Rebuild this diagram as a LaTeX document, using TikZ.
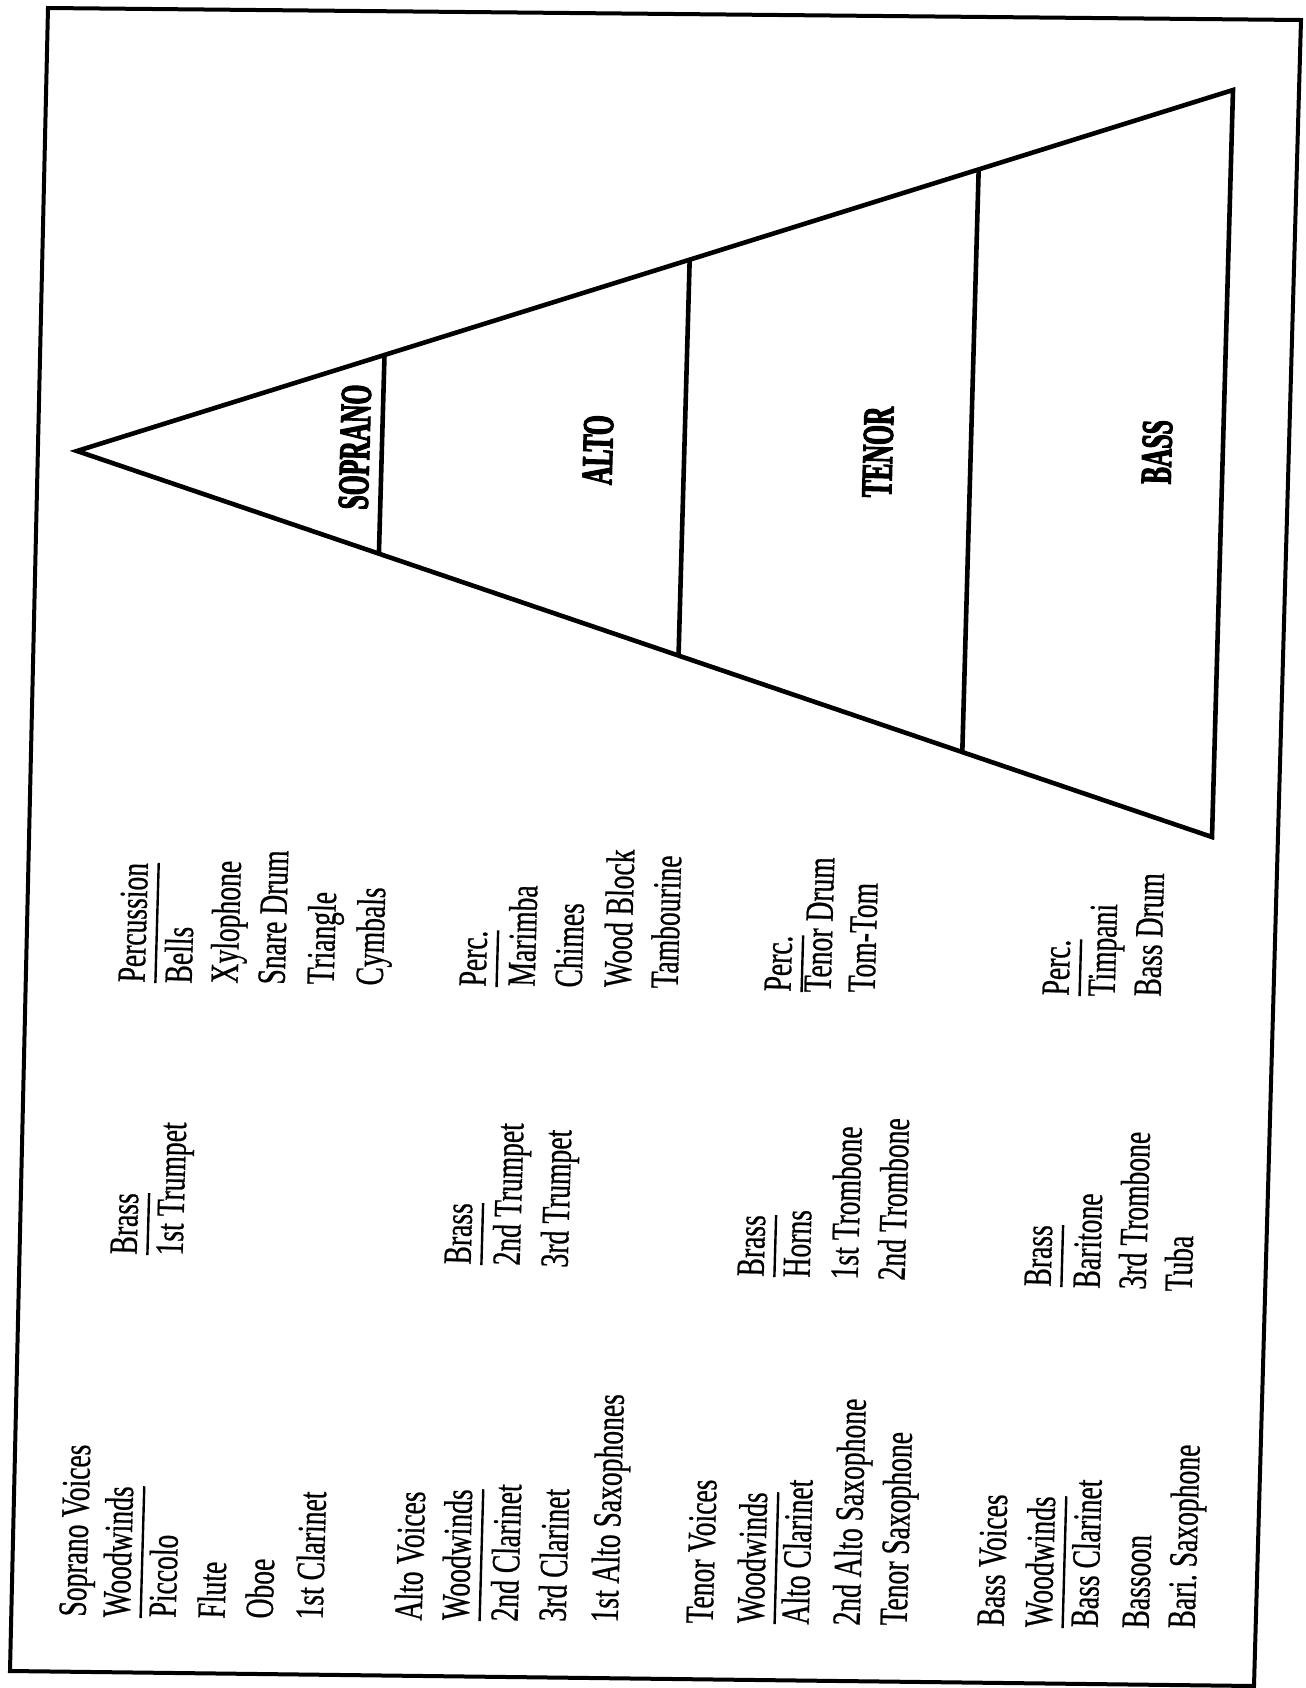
\documentclass[tikz,border=0pt]{standalone}
\usepackage{fontspec}
\setmainfont{Liberation Serif}[FakeStretch=0.69, FakeBold=0.6]
\newfontfamily\voicefont{Liberation Serif Bold}[FakeStretch=0.58, FakeBold=2.5]
\usepackage{tikz}
\usetikzlibrary{calc}

\begin{document}
\begin{tikzpicture}[
    x=0.5pt, y=-0.5pt,
    item/.style={rotate=88.4, anchor=mid west, inner sep=0pt, font=\fontsize{20}{22}\selectfont},
    head/.style={item},
    voice/.style={rotate=88.4, inner sep=0pt, font=\voicefont\fontsize{22}{24}\selectfont},
    rule/.style={line width=1.2pt},
    frame/.style={line width=2pt, line join=miter},
    pyramid/.style={line width=2.3pt, line join=miter}
]
    \useasboundingbox (0,0) rectangle (1306,1688);
    \draw[frame] (48,8) -- (1301,20) -- (1254,1686) -- (10,1671) -- cycle;

    % the pyramid
    \coordinate (apex) at (77,451);
    \coordinate (top) at (1233,90);
    \coordinate (base) at (1212,837);
    \draw[pyramid] (apex) -- (top) -- (base) -- cycle;
    \draw[pyramid] ($(apex)!0.266!(top)$) -- ($(apex)!0.266!(base)$);
    \draw[pyramid] ($(apex)!0.530!(top)$) -- ($(apex)!0.530!(base)$);
    \draw[pyramid] ($(apex)!0.780!(top)$) -- ($(apex)!0.780!(base)$);

    \node[voice] (soprano) at (355,447) {SOPRANO};
    \node[voice] (alto) at (598,450) {ALTO};
    \node[voice] (tenor) at (878,452) {TENOR};
    \node[voice] (bass) at (1157,452) {BASS};

    % woodwinds
    \node[item] (sopV) at (81,1617) {Soprano Voices};
    \node[head] (sopWW) at (125,1618) {Woodwinds};
    \node[item] (picc) at (171,1618) {Piccolo};
    \node[item] (flute) at (220,1619) {Flute};
    \node[item] (oboe) at (268,1619) {Oboe};
    \node[item] (clarI) at (318,1620) {1st Clarinet};

    \node[item] (altoV) at (417,1621) {Alto Voices};
    \node[head] (altoWW) at (464,1621) {Woodwinds};
    \node[item] (clarII) at (513,1622) {2nd Clarinet};
    \node[item] (clarIII) at (561,1622) {3rd Clarinet};
    \node[item] (asaxI) at (613,1623) {1st Alto Saxophones};

    \node[item] (tenV) at (708,1624) {Tenor Voices};
    \node[head] (tenWW) at (759,1624) {Woodwinds};
    \node[item] (aclar) at (804,1625) {Alto Clarinet};
    \node[item] (asaxII) at (855,1626) {2nd Alto Saxophone};
    \node[item] (tsax) at (902,1626) {Tenor Saxophone};

    \node[item] (bassV) at (999,1627) {Bass Voices};
    \node[head] (bassWW) at (1047,1628) {Woodwinds};
    \node[item] (bclar) at (1093,1628) {Bass Clarinet};
    \node[item] (bsn) at (1144,1629) {Bassoon};
    \node[item] (bsax) at (1190,1629) {Bari.\ Saxophone};

    % brass
    \node[head] (sopBr) at (132,1255) {Brass};
    \node[item] (tptI) at (178,1256) {1st Trumpet};

    \node[head] (altoBr) at (466,1265) {Brass};
    \node[item] (tptII) at (515,1266) {2nd Trumpet};
    \node[item] (tptIII) at (563,1268) {3rd Trumpet};

    \node[head] (tenBr) at (759,1277) {Brass};
    \node[item] (horns) at (805,1278) {Horns};
    \node[item] (tbnI) at (853,1280) {1st Trombone};
    \node[item] (tbnII) at (900,1281) {2nd Trombone};

    \node[head] (bassBr) at (1046,1287) {Brass};
    \node[item] (bari) at (1095,1289) {Baritone};
    \node[item] (tbnIII) at (1141,1290) {3rd Trombone};
    \node[item] (tuba) at (1187,1292) {Tuba};

    % percussion
    \node[head] (sopPc) at (140,983) {Percussion};
    \node[item] (bells) at (187,984) {Bells};
    \node[item] (xylo) at (233,984) {Xylophone};
    \node[item] (snare) at (280,985) {Snare Drum};
    \node[item] (trgl) at (329,985) {Triangle};
    \node[item] (cym) at (378,986) {Cymbals};

    \node[head] (altoPc) at (481,987) {Perc.};
    \node[item] (marimba) at (530,987) {Marimba};
    \node[item] (chimes) at (577,988) {Chimes};
    \node[item] (wblock) at (626,988) {Wood Block};
    \node[item] (tamb) at (673,989) {Tambourine};

    \node[head] (tenPc) at (786,992) {Perc.};
    \node[item] (tdrum) at (826,993) {Tenor Drum};
    \node[item] (tomtom) at (870,993) {Tom-Tom};

    \node[head] (bassPc) at (1064,996) {Perc.};
    \node[item] (timp) at (1110,997) {Timpani};
    \node[item] (bdrum) at (1156,997) {Bass Drum};

    % underlines
    \draw[rule] ([xshift=5pt]sopWW.south west) -- ([xshift=5pt]sopWW.south east);
    \draw[rule] ([xshift=5pt]altoWW.south west) -- ([xshift=5pt]altoWW.south east);
    \draw[rule] ([xshift=5pt]tenWW.south west) -- ([xshift=5pt]tenWW.south east);
    \draw[rule] ([xshift=5pt]bassWW.south west) -- ([xshift=5pt]bassWW.south east);
    \draw[rule] ([xshift=5pt]sopBr.south west) -- ([xshift=5pt]sopBr.south east);
    \draw[rule] ([xshift=5pt]altoBr.south west) -- ([xshift=5pt]altoBr.south east);
    \draw[rule] ([xshift=5pt]tenBr.south west) -- ([xshift=5pt]tenBr.south east);
    \draw[rule] ([xshift=5pt]bassBr.south west) -- ([xshift=5pt]bassBr.south east);
    \draw[rule] ([xshift=5pt]sopPc.south west) -- ([xshift=5pt]sopPc.south east);
    \draw[rule] ([xshift=5pt]altoPc.south west) -- ([xshift=5pt]altoPc.south east);
    \draw[rule] ([xshift=5pt]tenPc.south west) -- ([xshift=5pt]tenPc.south east);
    \draw[rule] ([xshift=5pt]bassPc.south west) -- ([xshift=5pt]bassPc.south east);
\end{tikzpicture}
\end{document}
